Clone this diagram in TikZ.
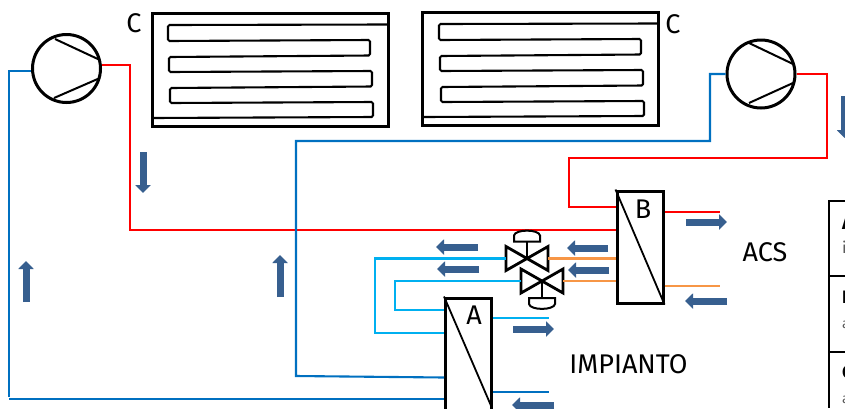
\documentclass[tikz,border=0pt]{standalone}
\usepackage{fontspec}
\setmainfont{Fira Sans}
\usetikzlibrary{arrows.meta}
\definecolor{pipered}{HTML}{FF0000}
\definecolor{pipeblue}{HTML}{0070C0}
\definecolor{pipecyan}{HTML}{00B0F0}
\definecolor{pipeorange}{HTML}{F79646}
\definecolor{flowblue}{HTML}{375F8F}
\tikzset{
    comp/.style={circle, draw, line width=3pt, minimum size=68pt, inner sep=0pt},
    hx/.style={rectangle, draw, line width=3pt, minimum width=46pt, inner sep=0pt},
    cond/.style={rectangle, draw, line width=3pt, minimum width=236pt, minimum height=113pt, inner sep=0pt},
    pipe/.style={line width=2.1pt},
    flow/.style={flowblue, line width=7pt, -{Triangle[length=8pt,width=15pt]}},
    tag/.style={font=\fontsize{27}{27}\selectfont},
    tabletext/.style={anchor=base west, inner sep=0pt},
    valve/.pic={
        \draw[line width=2.8pt, line join=miter] (-21,-12)--(-21,12)--(21,-12)--(21,12)--cycle;
        \draw[line width=2pt] (0,0)--(0,-17);
        \draw[line width=2pt] (-13,-17)--(-13,-23) .. controls (-12,-29.5) and (12,-29.5) .. (13,-23)--(13,-17)--cycle;
        \coordinate (-w) at (-21,0);
        \coordinate (-e) at (21,0);
    },
    coil/.pic={
        \draw[line width=2.1pt, rounded corners=1.5pt] (235,11.5)--(16,12)--(16,28)--(218,27)--(218,42.5)--(17,44)--(17,59)--(220,58)--(220,73.5)--(18,75)--(18,90)--(221,89)--(221,104)--(0,105);
    }
}
\begin{document}
\begin{tikzpicture}[x=1pt,y=-1pt]
    \useasboundingbox (0,0) rectangle (845,408);
    \clip (0,0) rectangle (845,408);

    % condensers
    \node[cond] (condL) at (270,69.5) {};
    \node[cond] (condR) at (540,68.5) {};
    \pic at (152,13) {coil};
    \pic at (423,12) {coil};
    \node[tag] (tagL) at (134,23) {C};
    \node[tag] (tagR) at (673,24) {C};

    % compressors
    \node[comp] (compL) at (66.5,68.5) {};
    \node[comp] (compR) at (761,74) {};
    \draw[line width=2pt] (55,39)--(100,60);
    \draw[line width=2pt] (54,98)--(100,78);
    \draw[line width=2pt] (749,43)--(793,64);
    \draw[line width=2pt] (749,103)--(793,83);

    % exchangers
    \node[hx, minimum height=112pt] (hxB) at (640,247) {};
    \node[hx, minimum height=130pt] (hxA) at (468.5,363) {};
    \draw[line width=1.8pt] (hxB.north west)--(hxB.south east);
    \draw[line width=1.8pt] (hxA.north west)--(492,408);
    \node[tag] (tagB) at (643,209) {B};
    \node[tag] (tagA) at (474,315) {A};

    % this one passes behind the valve
    \draw[pipe, pipered] (compL.6)-|(130,230)--(hxB.west |- 0,230);

    % valves
    \pic (valveT) at (527,258.5) {valve};
    \pic[yscale=-1] (valveB) at (542,281) {valve};

    % circuits
    \draw[pipe, pipeblue] (compL.184)-|(9,397);
    \draw[pipe, pipeblue] (9,399)--(hxA.west |- 0,399);
    \draw[pipe, pipeblue] (compR.west)--(710,74)--(710,141)--(296,141)--(296,376)--(hxA.west |- 0,377.5);
    \draw[pipe, pipered] (compR.east)--(827,74)--(827,158)--(569,158)--(569,207)--(hxB.west |- 0,207);
    \draw[pipe, pipered] (hxB.east |- 0,212)--(720,212);
    \draw[pipe, pipeorange] (hxB.east |- 0,286)--(720,286);
    \draw[pipe, pipeorange] (valveT-e)--(hxB.west |- valveT-e);
    \draw[pipe, pipeorange] (valveB-e)--(hxB.west |- valveB-e);
    \draw[pipe, pipecyan] (valveT-w)--(375,258.5)--(375,333)--(hxA.west |- 0,333);
    \draw[pipe, pipecyan] (valveB-w)--(395,281)--(395,310)--(hxA.west |- 0,310);
    \draw[pipe, pipecyan] (hxA.east |- 0,318)--(549,318);
    \draw[pipe, pipeblue] (hxA.east |- 0,392)--(549,392);

    % flow directions
    \draw[flow] (143,152)--(143,193);
    \draw[flow] (26,302)--(26,261);
    \draw[flow] (280,297)--(280,255);
    \draw[flow] (844.5,96)--(844.5,138);
    \draw[flow] (478,247)--(436,247);
    \draw[flow] (479,269)--(437,269);
    \draw[flow] (608,248)--(567,248);
    \draw[flow] (609,270)--(568,270);
    \draw[flow] (686,222)--(727,222);
    \draw[flow] (727,301)--(685,301);
    \draw[flow] (513,329)--(554,329);
    \draw[flow] (554,405)--(512,405);

    \node[tag] (acs) at (765,252) {ACS};
    \node[tag] (impianto) at (628.5,364) {IMPIANTO};

    % table at the edge
    \draw[line width=1.2pt] (829,201)--(829,408);
    \draw[line width=1.2pt] (828,201)--(845,201);
    \draw[line width=1.2pt] (828,276)--(845,276);
    \draw[line width=1.2pt] (828,352)--(845,352);
    \node[tabletext, font=\fontsize{18}{18}\selectfont\bfseries] (rowA) at (842,229) {A};
    \node[tabletext, font=\fontsize{16}{16}\selectfont, text=black!65] (subA) at (842,253) {i};
    \node[tabletext, font=\fontsize{18}{18}\selectfont\bfseries] (rowB) at (842,303) {B};
    \node[tabletext, font=\fontsize{14}{14}\selectfont, text=black!65] (subB) at (842,328) {a};
    \node[tabletext, font=\fontsize{18}{18}\selectfont\bfseries] (rowC) at (842,378) {C};
    \node[tabletext, font=\fontsize{14}{14}\selectfont, text=black!65] (subC) at (842,403) {a};
\end{tikzpicture}
\end{document}
